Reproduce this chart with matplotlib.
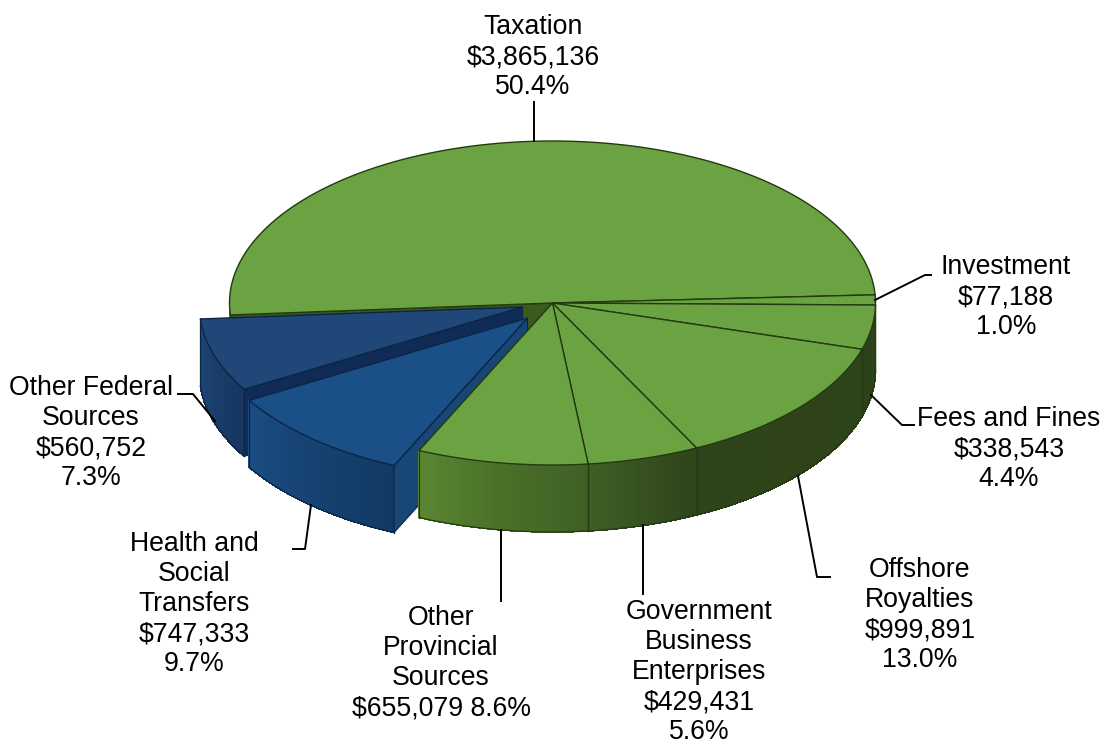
import numpy as np
import matplotlib
matplotlib.use("Agg")
import matplotlib.pyplot as plt
from matplotlib.colors import to_rgb
from matplotlib.patches import Polygon

# ---- data (clockwise from the start angle)
names = ["Investment", "Fees and Fines", "Offshore\nRoyalties",
         "Government\nBusiness\nEnterprises", "Other\nProvincial\nSources",
         "Health and\nSocial\nTransfers", "Other Federal\nSources", "Taxation"]
values = [77188, 338543, 999891, 429431, 655079, 747333, 560752, 3865136]
percents = [1.0, 4.4, 13.0, 5.6, 8.6, 9.7, 7.3, 50.4]

# ---- geometry and style
W, H = 1103, 742
CX, CY, RX, RY, DEPTH = 552.5, 303, 323, 162, 67
START = 2.9
OFFSETS = {5: (-25, 15), 6: (-30, 4)}
TOPS = ["#6ba342"] * 5 + ["#1b4f88", "#1f4878", "#6ba342"]
EDGE_G, EDGE_B = "#24390f", "#0d2544"
CUT = {5: "#174677", 6: "#0f2b56", 7: "#3b5a1d"}
WALL_STOPS = {
    "g": ([-180, -114.5, -100, -83.5, -64, 0],
          ["#5b8733", "#5b8733", "#4b7129", "#3f5f25", "#2e441a", "#2d4218"]),
    "b5": ([-150, -114], ["#1b4c82", "#113963"]),
    "b6": ([-176, -149], ["#1e4878", "#163660"]),
}
LABEL_XY = [(1006, 297), (1009, 449), (920, 615), (699, 672), (441, 663),
            (194, 604), (91, 433)]
TAX_XY = (533, 57)
LEADERS = [
    [(875, 300), (925, 275), (931, 275)],
    [(871, 395), (902, 425), (914, 425)],
    [(798, 476), (817, 577), (830, 577)],
    [(643, 525), (643, 594)],
    [(501, 530), (501, 601)],
    [(311, 505), (305, 549), (293, 549)],
    [(215, 421), (193, 394), (178, 394)],
    [(534, 141), (534, 102)],
]
FONT = "Liberation Sans"
FS = 19.2
LS = 1.21

fig = plt.figure(figsize=(W / 100, H / 100), dpi=100)
ax = fig.add_axes([0, 0, 1, 1])
ax.set_xlim(0, W)
ax.set_ylim(H, 0)
ax.axis("off")

total = sum(values)
bounds = START - np.cumsum([0] + values) / total * 360


def rim(t, off=(0, 0), drop=0):
    t = np.radians(t)
    return (CX + off[0] + RX * np.cos(t), CY + off[1] + drop - RY * np.sin(t))


def wall_color(key, t):
    xs, cs = WALL_STOPS[key]
    rgb = np.array([to_rgb(c) for c in cs])
    return tuple(np.interp(t, xs, rgb[:, k]) for k in range(3))


def top_face(i, z):
    off = OFFSETS.get(i, (0, 0))
    ts = np.linspace(bounds[i], bounds[i + 1], 200)
    x, y = rim(ts, off)
    pts = [(CX + off[0], CY + off[1])] + list(zip(x, y))
    edge = EDGE_B if i in OFFSETS else EDGE_G
    ax.add_patch(Polygon(pts, closed=True, fc=TOPS[i], ec=edge, lw=1.0, zorder=z,
                         joinstyle="round"))


def outer_wall(i, key, z):
    off = OFFSETS.get(i, (0, 0))
    hi = min(bounds[i], 0)
    lo = max(bounds[i + 1], -180)
    if hi <= lo:
        return
    edges = np.linspace(lo, hi, max(int((hi - lo) * 2), 2) + 1)
    for a, b in zip(edges[:-1], edges[1:]):
        xa, ya = rim(a, off)
        xb, yb = rim(b, off)
        c = wall_color(key, (a + b) / 2)
        ax.add_patch(Polygon([(xa, ya), (xb, yb), (xb, yb + DEPTH), (xa, ya + DEPTH)],
                             closed=True, fc=c, ec=c, lw=0.5, zorder=z,
                             antialiased=False))
    edge = EDGE_B if i in OFFSETS else EDGE_G
    ts = np.linspace(lo, hi, 120)
    x, y = rim(ts, off, DEPTH)
    ax.plot(x, y, color=edge, lw=0.9, zorder=z + 0.1)
    for t in (lo, hi):
        if -180 < t < 0:
            xv, yv = rim(t, off)
            ax.plot([xv, xv], [yv, yv + DEPTH], color=edge, lw=0.9, zorder=z + 0.1)


def cut_face(i, angle, z):
    off = OFFSETS.get(i, (0, 0))
    xr, yr = rim(angle, off)
    xc, yc = CX + off[0], CY + off[1]
    edge = EDGE_B if i in OFFSETS else EDGE_G
    ax.add_patch(Polygon([(xc, yc), (xr, yr), (xr, yr + DEPTH), (xc, yc + DEPTH)],
                         closed=True, fc=CUT[i], ec=edge, lw=0.8, zorder=z))


# Back to front: taxation cut, federal piece, health piece, remaining green pieces
cut_face(7, bounds[7], 1)
outer_wall(7, "g", 1.5)
top_face(7, 2)

outer_wall(6, "b6", 3.1)
cut_face(6, bounds[6], 3.2)
top_face(6, 3.5)

outer_wall(5, "b5", 4.1)
cut_face(5, bounds[5], 4.2)
top_face(5, 4.5)

for i in range(5):
    outer_wall(i, "g", 5)
for i in range(5):
    top_face(i, 6)

# Labels and leader lines
for i, (name, xy) in enumerate(zip(names[:7], LABEL_XY)):
    sep = " " if i == 4 else "\n"
    txt = f"{name}\n${values[i]:,}{sep}{percents[i]:.1f}%"
    ax.text(xy[0], xy[1], txt, ha="center", va="center", family=FONT, fontsize=FS,
            linespacing=LS, color="black", zorder=10, multialignment="center")
ax.text(TAX_XY[0], TAX_XY[1], f"{names[7]}\n${values[7]:,}\n{percents[7]:.1f}%",
        ha="center", va="center", family=FONT, fontsize=FS, linespacing=LS,
        color="black", zorder=10, multialignment="center")
for pts in LEADERS:
    xs, ys = zip(*pts)
    ax.plot(xs, ys, color="black", lw=1.4, zorder=9, solid_joinstyle="round")

fig.savefig("out.png", dpi=100, facecolor="white")
